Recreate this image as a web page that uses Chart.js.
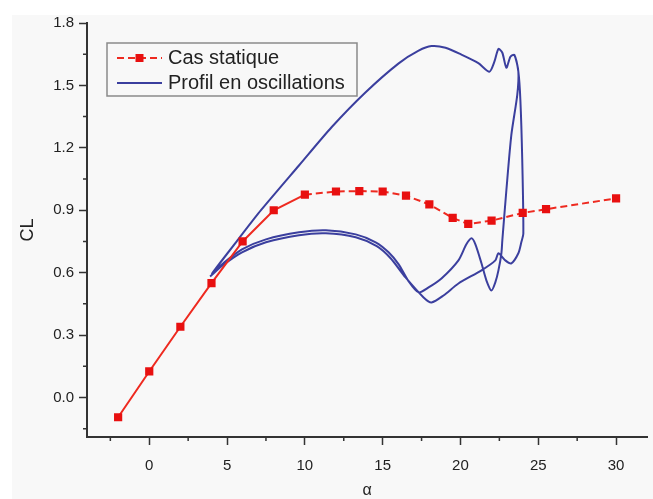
<!DOCTYPE html>
<html>
<head>
<meta charset="utf-8">
<script src="https://cdn.jsdelivr.net/npm/chart.js@4.4.0/dist/chart.umd.min.js"></script>
<style>
  html, body { margin: 0; padding: 0; background: #ffffff; }
</style>
</head>
<body>
<canvas id="grafico" width="653" height="499"></canvas>
<script>
// Cas statique
const alphaStatique = [-2, 0, 2, 4, 6, 8, 10, 12, 13.5, 15, 16.5, 18, 19.5, 20.5, 22, 24, 25.5, 30];
const clStatique = [-0.095, 0.125, 0.34, 0.55, 0.75, 0.9, 0.975, 0.99, 0.992, 0.99, 0.97, 0.928, 0.863, 0.834, 0.85, 0.887, 0.905, 0.957];

// Profil en oscillations (boucle parcourue dans l'ordre, deux cycles)
const alphaOscill = [
  4.04, 5.77, 7.18, 9.62, 11.73, 13.89, 16.03, 17.31, 18.14, 19.04, 20.06, 21.15, 21.86, 22.18, 22.44, 22.69, 22.95, 23.21, 23.46, 23.72,
  23.65, 23.27, 22.95, 22.69, 22.63, 22.44, 22.24, 21.99, 21.67, 21.35, 20.96, 20.71, 20.38, 19.87, 18.78, 17.95, 17.31, 16.67, 16.03,
  15.38, 14.55, 13.27, 11.35, 9.62, 7.5, 5.96, 4.81, 4.04,
  5.77, 7.18, 9.62, 11.73, 13.89, 16.03, 17.31, 18.14, 19.04, 20.06, 21.15, 21.86, 22.18, 22.44, 22.69, 22.95, 23.21, 23.46, 23.72,
  23.85, 23.97, 24.04, 23.91, 23.72, 23.27, 22.88, 22.44, 22.24, 21.35, 19.87, 18.91, 18.14, 17.63, 16.47, 15.51, 14.62, 13.27, 11.35,
  9.62, 7.5, 5.96, 4.81, 3.91
];
const clOscill = [
  0.596, 0.765, 0.9, 1.115, 1.3, 1.466, 1.606, 1.667, 1.689, 1.681, 1.648, 1.607, 1.566, 1.614, 1.676, 1.657, 1.585, 1.638, 1.647, 1.566,
  1.455, 1.262, 0.996, 0.755, 0.693, 0.611, 0.553, 0.514, 0.562, 0.645, 0.736, 0.765, 0.736, 0.659, 0.572, 0.529, 0.505, 0.558, 0.64,
  0.698, 0.746, 0.784, 0.804, 0.794, 0.76, 0.712, 0.649, 0.596,
  0.765, 0.9, 1.115, 1.3, 1.466, 1.606, 1.667, 1.689, 1.681, 1.648, 1.607, 1.566, 1.614, 1.676, 1.657, 1.585, 1.638, 1.647, 1.566,
  1.43, 1.141, 0.788, 0.746, 0.693, 0.645, 0.659, 0.693, 0.659, 0.611, 0.548, 0.49, 0.457, 0.481, 0.577, 0.669, 0.727, 0.77, 0.789,
  0.78, 0.746, 0.698, 0.64, 0.582
];

// Graduations
const xTicks = [0, 5, 10, 15, 20, 25, 30];
const yTicks = [0, 0.3, 0.6, 0.9, 1.2, 1.5, 1.8];
const xMineurs = [-2.5, 2.5, 7.5, 12.5, 17.5, 22.5, 27.5];
const yMineurs = [-0.15, 0.15, 0.45, 0.75, 1.05, 1.35, 1.65];

const rouge = "#ee2a20";
const bleu = "#3b3f9e";
const police = "'Liberation Sans', Arial, sans-serif";

// Fond gris de la figure
const fond = {
  id: "fond",
  beforeDraw(chart) {
    const ctx = chart.ctx;
    ctx.save();
    ctx.fillStyle = "#ffffff";
    ctx.fillRect(0, 0, chart.width, chart.height);
    ctx.fillStyle = "#f8f8f8";
    ctx.fillRect(12, 15, chart.width - 12, chart.height - 15);
    ctx.restore();
  },
};

// Petites graduations
const tiquesMineurs = {
  id: "tiquesMineurs",
  afterDraw(chart) {
    const ctx = chart.ctx;
    const sx = chart.scales.x;
    const sy = chart.scales.y;
    ctx.save();
    ctx.strokeStyle = "#333";
    ctx.lineWidth = 1.5;
    ctx.beginPath();
    xMineurs.forEach((v) => {
      const px = sx.getPixelForValue(v);
      ctx.moveTo(px, sx.top);
      ctx.lineTo(px, sx.top + 4);
    });
    yMineurs.forEach((v) => {
      const py = sy.getPixelForValue(v);
      ctx.moveTo(sy.right, py);
      ctx.lineTo(sy.right - 4, py);
    });
    ctx.stroke();
    ctx.restore();
  },
};

// Légende encadrée
const legende = {
  id: "legende",
  afterDraw(chart) {
    const ctx = chart.ctx;
    ctx.save();
    ctx.fillStyle = "#f8f8f8";
    ctx.fillRect(107, 43, 250, 53);
    ctx.strokeStyle = "#8a8a8a";
    ctx.lineWidth = 1.5;
    ctx.strokeRect(107, 43, 250, 53);

    const ds = chart.data.datasets;
    // Cas statique
    ctx.strokeStyle = ds[0].borderColor;
    ctx.lineWidth = 2;
    ctx.setLineDash([7, 4]);
    ctx.beginPath();
    ctx.moveTo(117, 58);
    ctx.lineTo(162, 58);
    ctx.stroke();
    ctx.setLineDash([]);
    ctx.fillStyle = ds[0].pointBackgroundColor;
    ctx.fillRect(135.5, 54, 8, 8);
    // Profil en oscillations
    ctx.strokeStyle = ds[1].borderColor;
    ctx.beginPath();
    ctx.moveTo(117, 83);
    ctx.lineTo(162, 83);
    ctx.stroke();

    ctx.fillStyle = "#222";
    ctx.font = "20px " + police;
    ctx.textBaseline = "middle";
    ctx.fillText(ds[0].label, 168, 58);
    ctx.fillText(ds[1].label, 168, 83);
    ctx.restore();
  },
};

new Chart(document.getElementById("grafico"), {
  type: "scatter",
  data: {
    datasets: [
      {
        label: "Cas statique",
        data: alphaStatique.map((a, i) => ({ x: a, y: clStatique[i] })),
        showLine: true,
        borderColor: rouge,
        borderWidth: 2,
        pointStyle: "rect",
        pointRadius: 5.8,
        pointBackgroundColor: "#e81010",
        pointBorderColor: "#e81010",
        pointBorderWidth: 0,
        segment: {
          borderDash: (c) => (c.p0.parsed.x >= 10 ? [7, 4] : undefined),
        },
      },
      {
        label: "Profil en oscillations",
        data: alphaOscill.map((a, i) => ({ x: a, y: clOscill[i] })),
        showLine: true,
        borderColor: bleu,
        borderWidth: 2,
        pointRadius: 0,
        tension: 0.25,
      },
    ],
  },
  options: {
    responsive: false,
    animation: false,
    layout: { padding: { left: 0, top: 23, right: 3, bottom: 0 } },
    plugins: {
      legend: { display: false },
      tooltip: { enabled: false },
    },
    scales: {
      x: {
        type: "linear",
        min: -4,
        max: 32,
        afterBuildTicks: (s) => {
          s.ticks = xTicks.map((v) => ({ value: v }));
        },
        afterFit: (s) => {
          s.height = 62;
        },
        border: { display: true, color: "#333", width: 2 },
        grid: { drawOnChartArea: false, tickLength: 8, tickColor: "#333", tickWidth: 1.5 },
        ticks: {
          padding: 12,
          color: "#222",
          font: { family: police, size: 15 },
          callback: (v) => String(v),
        },
        title: {
          display: true,
          text: "α",
          color: "#222",
          font: { family: police, size: 16, lineHeight: 1 },
          padding: { top: 0, bottom: 0 },
        },
      },
      y: {
        type: "linear",
        min: -0.19,
        max: 1.8,
        afterBuildTicks: (s) => {
          s.ticks = yTicks.map((v) => ({ value: v }));
        },
        afterFit: (s) => {
          s.width = 87;
        },
        border: { display: true, color: "#333", width: 2 },
        grid: { drawOnChartArea: false, tickLength: 8, tickColor: "#333", tickWidth: 1.5 },
        ticks: {
          padding: 5,
          color: "#222",
          font: { family: police, size: 15 },
          callback: (v) => v.toFixed(1),
        },
        title: {
          display: true,
          text: "CL",
          color: "#222",
          font: { family: police, size: 18, lineHeight: 1 },
          padding: { top: 19, bottom: 0 },
        },
      },
    },
  },
  plugins: [fond, tiquesMineurs, legende],
});
</script>
</body>
</html>
